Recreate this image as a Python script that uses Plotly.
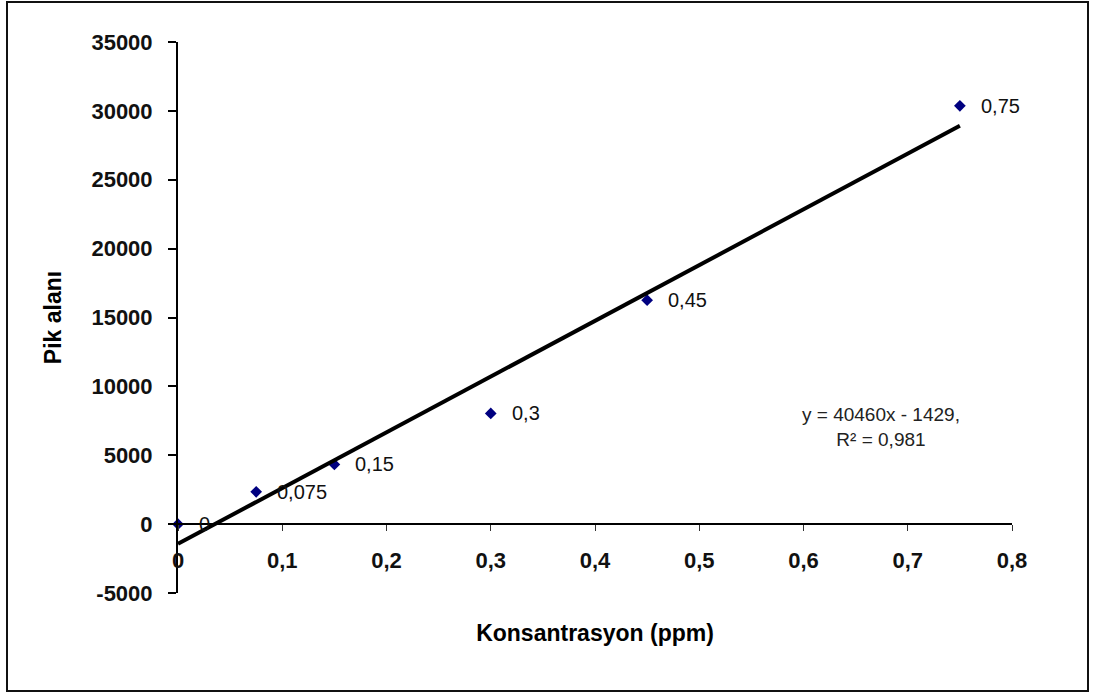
import plotly.graph_objects as go

# Calibration data: concentration (ppm) vs. peak area
konsantrasyon = [0, 0.075, 0.15, 0.3, 0.45, 0.75]
pik_alani = [0, 2345, 4334, 8036, 16261, 30367]
nokta_etiketleri = ["0", "0,075", "0,15", "0,3", "0,45", "0,75"]

# Linear trendline coefficients and fit quality
egim = 40460
kesisim = -1429
r_kare_metni = "0,981"

# Axis ticks
x_tick_vals = [0, 0.1, 0.2, 0.3, 0.4, 0.5, 0.6, 0.7, 0.8]
x_tick_text = ["0", "0,1", "0,2", "0,3", "0,4", "0,5", "0,6", "0,7", "0,8"]
y_tick_vals = [-5000, 0, 5000, 10000, 15000, 20000, 25000, 30000, 35000]
y_tick_text = ["-5000", "0", "5000", "10000", "15000", "20000", "25000", "30000", "35000"]

FONT = "Liberation Sans, Arial, sans-serif"

W, H = 1094, 693
ML, MR, MT, MB = 178, 82, 42, 100
Y_MIN, Y_MAX = -5000, 35000

fig = go.Figure()

fig.add_trace(go.Scatter(
    x=konsantrasyon, y=pik_alani, mode="markers",
    marker=dict(symbol="diamond", size=9, color="#000080"),
    cliponaxis=False, showlegend=False,
))

# Trendline over the measured range
x_line = [konsantrasyon[0], konsantrasyon[-1]]
y_line = [egim * xv + kesisim for xv in x_line]
fig.add_trace(go.Scatter(
    x=x_line, y=y_line, mode="lines",
    line=dict(color="black", width=4),
    cliponaxis=False, showlegend=False,
))

# Point labels to the right of each marker
for xv, yv, lab in zip(konsantrasyon, pik_alani, nokta_etiketleri):
    fig.add_annotation(
        x=xv, y=yv, text=lab, showarrow=False,
        xanchor="left", yanchor="middle", xshift=19,
        font=dict(family=FONT, size=20, color="#111"),
    )

# Regression equation
fig.add_annotation(
    x=0.6744, y=7040, xref="x", yref="y",
    text=f"y = {egim}x - {abs(kesisim)},<br>R² = {r_kare_metni}",
    showarrow=False, align="center",
    font=dict(family=FONT, size=19, color="#222"),
)

# Outer frame around the whole chart
pw = W - ML - MR
ph = H - MT - MB
def px_x(p):
    return (p - ML) / pw
def px_y(p):
    return (H - MB - p) / ph
fig.add_shape(
    type="rect", xref="paper", yref="paper",
    x0=px_x(7), x1=px_x(1088), y0=px_y(691), y1=px_y(2),
    line=dict(color="#111", width=2), layer="below",
)

fig.update_layout(
    width=W, height=H,
    margin=dict(l=ML, r=MR, t=MT, b=MB),
    plot_bgcolor="white", paper_bgcolor="white",
    font=dict(family=FONT, color="black"),
    xaxis=dict(
        range=[0, 0.8], anchor="free",
        position=(0 - Y_MIN) / (Y_MAX - Y_MIN),
        showline=True, linecolor="black", linewidth=2,
        showgrid=False, zeroline=False,
        ticks="outside", ticklen=6, tickwidth=1, tickcolor="#333",
        tickvals=x_tick_vals, ticktext=x_tick_text,
        tickfont=dict(family=FONT, size=22, color="#111", weight="bold"),
        ticklabelstandoff=10,
        title=dict(text="Konsantrasyon (ppm)", standoff=52,
                   font=dict(family=FONT, size=23, color="black", weight="bold")),
    ),
    yaxis=dict(
        range=[Y_MIN, Y_MAX],
        showline=True, linecolor="black", linewidth=2,
        showgrid=False, zeroline=False,
        ticks="outside", ticklen=8, tickwidth=2, tickcolor="black",
        tickvals=y_tick_vals, ticktext=y_tick_text,
        tickfont=dict(family=FONT, size=22, color="#111", weight="bold"),
        ticklabelstandoff=11,
        title=dict(text="Pik alanı", standoff=23,
                   font=dict(family=FONT, size=23, color="black", weight="bold")),
    ),
)

fig.write_html("out.html")
